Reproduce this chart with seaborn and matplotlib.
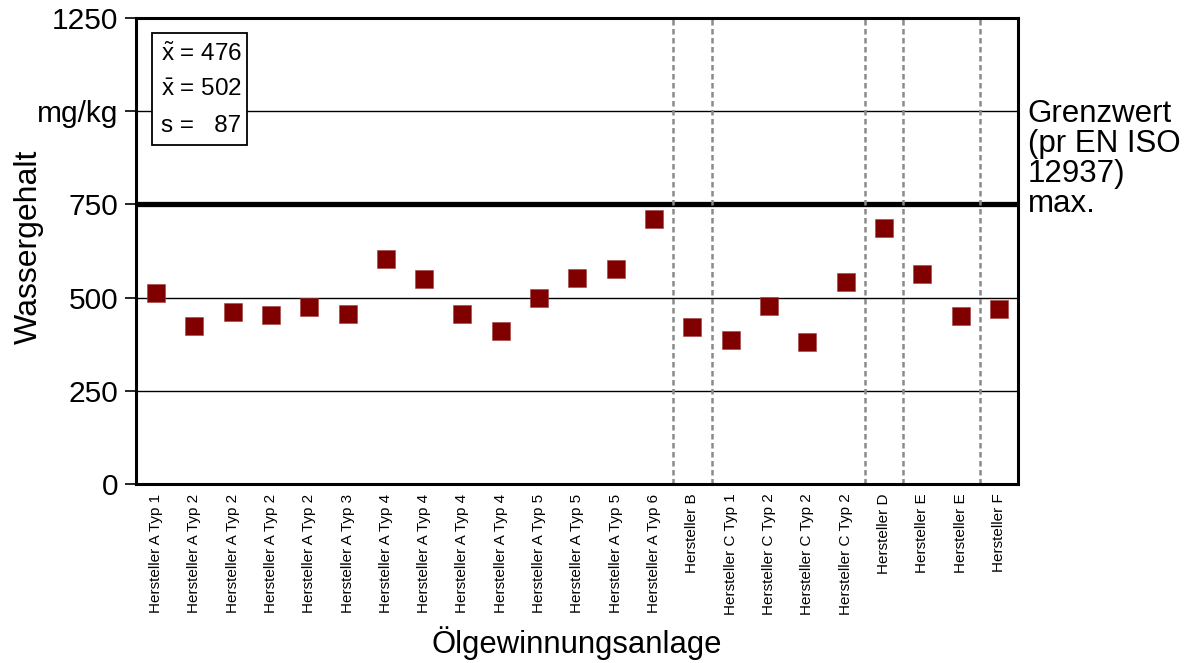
import numpy as np
import pandas as pd
import matplotlib
matplotlib.use("Agg")
import matplotlib.pyplot as plt
from matplotlib.patches import Rectangle
import seaborn as sns

# Water content per oil production plant (mg/kg)
anlagen = [
    "Hersteller A Typ 1", "Hersteller A Typ 2", "Hersteller A Typ 2", "Hersteller A Typ 2",
    "Hersteller A Typ 2", "Hersteller A Typ 3", "Hersteller A Typ 4", "Hersteller A Typ 4",
    "Hersteller A Typ 4", "Hersteller A Typ 4", "Hersteller A Typ 5", "Hersteller A Typ 5",
    "Hersteller A Typ 5", "Hersteller A Typ 6", "Hersteller B", "Hersteller C Typ 1",
    "Hersteller C Typ 2", "Hersteller C Typ 2", "Hersteller C Typ 2", "Hersteller D",
    "Hersteller E", "Hersteller E", "Hersteller F",
]
wassergehalt = [512, 425, 462, 454, 475, 455, 604, 550, 455, 411, 500, 552,
                577, 712, 420, 385, 477, 380, 541, 687, 562, 451, 469]

grenzwert = 750
y_ticks = [0, 250, 500, 750, 1000, 1250]
y_ticklabels = ["0", "250", "500", "750", "mg/kg", "1250"]
grid_levels = [250, 500, 1000]
# boundaries between manufacturers (between category positions)
trennlinien = [13.5, 14.5, 18.5, 19.5, 21.5]
stat_lines = [r"$\tilde{x}$ = 476", r"$\bar{x}$ = 502", "s =   87"]

sns.set_theme(style="white")
plt.rcParams["font.family"] = ["Liberation Sans", "DejaVu Sans"]
plt.rcParams["mathtext.fontset"] = "custom"
plt.rcParams["mathtext.rm"] = "Liberation Sans"
plt.rcParams["mathtext.it"] = "Liberation Sans"
for key in ["text.color", "axes.labelcolor", "xtick.color", "ytick.color"]:
    plt.rcParams[key] = "black"

df = pd.DataFrame({"pos": np.arange(len(anlagen)), "wert": wassergehalt})

fig = plt.figure(figsize=(11.89, 6.63), dpi=100)
ax = fig.add_axes([0.1144, 0.27, 0.7418, 0.703])

for lvl in grid_levels:
    ax.axhline(lvl, color="black", lw=1.0, zorder=1)
ax.axhline(grenzwert, color="black", lw=3.8, zorder=2)
for xv in trennlinien:
    ax.axvline(xv, color="#8a8a8a", lw=1.8, ls=(0, (2.2, 1.4)), zorder=2)

sns.scatterplot(data=df, x="pos", y="wert", marker="s", s=185, color="#800000",
                edgecolor="#a04040", linewidth=0.4, ax=ax, zorder=4, legend=False)

ax.set_xlim(-0.52, 22.5)
ax.set_ylim(0, 1250)
ax.set_yticks(y_ticks)
ax.set_yticklabels(y_ticklabels, fontsize=21.5)
ax.set_xticks(df["pos"])
ax.set_xticklabels(anlagen, rotation=90, fontsize=11)
ax.tick_params(axis="y", direction="out", length=8, width=1.2, color="black", pad=5, left=True)
ax.tick_params(axis="x", length=0, pad=7)
for sp in ax.spines.values():
    sp.set_color("black")
    sp.set_linewidth(2.2)
    sp.set_zorder(5)

ax.set_ylabel("Wassergehalt", fontsize=23)
ax.yaxis.set_label_coords(-0.104, 0.509)
ax.set_xlabel("Ölgewinnungsanlage", fontsize=22.3)
ax.xaxis.set_label_coords(0.5, -0.306)

# statistics box
box = Rectangle((0.018, 0.727), 0.108, 0.241, transform=ax.transAxes,
                facecolor="white", edgecolor="black", lw=1.3, zorder=6)
ax.add_patch(box)
for i, line in enumerate(stat_lines):
    ax.text(0.028, 0.908 - i * 0.076, line, transform=ax.transAxes, fontsize=17.5,
            va="baseline", ha="left", zorder=7)

# limit value annotation
ax.text(1.011, 712, "Grenzwert\n(pr EN ISO\n12937)\nmax.",
        transform=ax.get_yaxis_transform(), fontsize=22.5, va="bottom", ha="left",
        linespacing=1.0)

fig.savefig("out.png", dpi=100)
